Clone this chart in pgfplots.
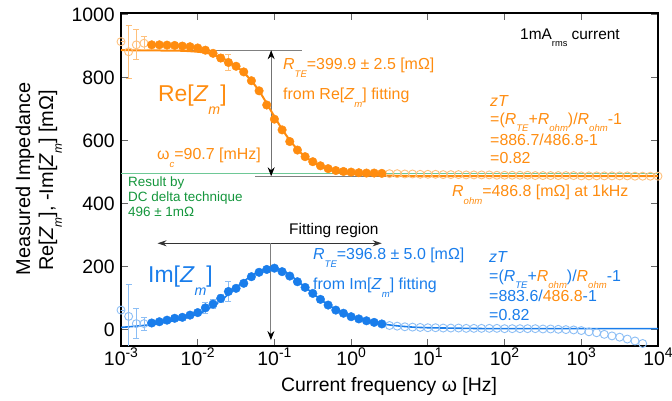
\documentclass[border=0pt]{standalone}
\usepackage{fontspec}
\setmainfont{Liberation Sans}
\usepackage{graphicx}
\usepackage{pgfplots}
\pgfplotsset{compat=1.18}
\usepackage{pgfplotstable}
\usetikzlibrary{arrows.meta}
\definecolor{ora}{RGB}{255,140,15}
\definecolor{blu}{RGB}{25,125,235}
\definecolor{grn}{RGB}{20,150,60}
\definecolor{gln}{RGB}{110,200,150}
\newcommand\fs[1]{\fontsize{#1}{#1}\selectfont}
\newcommand\sub[1]{\raisebox{-0.45em}{\scalebox{0.6}{\itshape #1}}}
\newcommand\subb[1]{\raisebox{-0.55em}{\scalebox{0.62}{\itshape #1}}}
\newcommand\subu[1]{\raisebox{-0.45em}{\scalebox{0.6}{#1}}}
\newcommand\xsup[1]{\raisebox{0.38em}{\fs{14}#1}}

\pgfplotstableread{
f re im
2.512e-3 904 21
3.162e-3 904 25
3.981e-3 903 30
5.012e-3 902 36
6.310e-3 900 39
7.943e-3 898 46
1e-2 894 54
1.259e-2 887 69
1.585e-2 877 81
1.995e-2 862 99
2.512e-2 848 121
3.162e-2 836 131
3.981e-2 818 147
5.012e-2 790 168
6.310e-2 758 182
7.943e-2 713 191
0.1 668 195
0.1259 634 184
0.1585 597 170
0.1995 570 152
0.2512 549 134
0.3162 533 115
0.3981 520 96
0.5012 511 78
0.6310 505 62
0.7943 502 52
1 500 41
1.259 498 34
1.585 497 28
1.995 497 23
2.512 496 18
}\filled

\pgfplotstableread{
f re
3.162 495
3.981 495
5.012 494
6.310 494
7.943 493
10 493
12.59 493
15.85 492
19.95 492
25.12 492
31.62 491
39.81 491
50.12 491
63.10 491
79.43 490
100 490
125.9 490
158.5 490
199.5 490
251.2 489
316.2 489
398.1 489
501.2 489
631.0 489
794.3 489
1000 488
1259 488
1585 488
1995 488
2512 488
3162 488
3981 488
5012 487
6310 487
7943 487
10000 487
}\rehigh

\pgfplotstableread{
f im
3.162 13
3.981 11
5.012 9
6.310 8
7.943 7
10 6
12.59 6
15.85 5
19.95 5
25.12 5
31.62 4
39.81 4
50.12 4
63.10 4
79.43 4
100 3
125.9 3
158.5 3
199.5 3
251.2 3
316.2 2
398.1 2
501.2 1
631.0 0
794.3 -1
1000 -3
1259 -7
1585 -10
1995 -15
2512 -20
3162 -24
3981 -30
5012 -36
6310 -44
}\imhigh

\begin{document}
\begin{tikzpicture}
\begin{axis}[
  at={(121bp,55bp)}, anchor=south west,
  width=537bp, height=333bp, scale only axis,
  xmode=log, xmin=1e-3, xmax=1e4, ymin=-52, ymax=1005,
  xtick={1e-3,1e-2,1e-1,1,10,100,1000,10000},
  xticklabels={10\xsup{-3},10\xsup{-2},10\xsup{-1},10\xsup{0},10\xsup{1},10\xsup{2},10\xsup{3},10\xsup{4}},
  xminorticks=false,
  ytick={0,200,400,600,800,1000},
  tick align=inside,
  major tick length=7bp,
  tick style={black!60, line width=0.8bp},
  axis line style={line width=2.6bp},
  tick label style={font=\fs{19.5}},
  /pgf/number format/assume math mode=true,
  /pgf/number format/1000 sep={},
  yticklabel style={inner sep=0pt, xshift=-6bp},
  xticklabel style={inner sep=0pt, yshift=-2bp},
]
% reference lines
\draw[gln, line width=1.2bp] (axis cs:1e-3,496) -- (axis cs:1e4,496);
\draw[black!50, line width=1bp] (axis cs:1e-3,886.7) -- (axis cs:0.229,886.7);
\draw[black!50, line width=1bp] (axis cs:0.056,486.8) -- (axis cs:1e4,486.8);
\draw[black!55, line width=1bp,
  {Stealth[length=9bp,width=7bp,inset=3bp,color=black]}-{Stealth[length=9bp,width=7bp,inset=3bp,color=black]}]
  (axis cs:0.0907,886.7) -- (axis cs:0.0907,486.8);
\draw[black!80, line width=1bp,
  {Stealth[length=9bp,width=6bp,inset=3bp]}-{Stealth[length=9bp,width=6bp,inset=3bp]}]
  (axis cs:3.0e-3,274) -- (axis cs:2.5,274);
\draw[black!50, line width=1bp, -{Stealth[length=9bp,width=7bp,inset=3bp,color=black]}]
  (axis cs:0.09,274) -- (axis cs:0.09,-33);

% fit lines
\addplot[ora, line width=2bp, smooth, tension=0.4] coordinates {
(1e-3,887) (3.162e-3,886) (6.310e-3,885) (1e-2,882) (1.259e-2,879) (1.585e-2,873)
(1.995e-2,864) (2.512e-2,852) (3.162e-2,836) (3.981e-2,816) (5.012e-2,790)
(6.310e-2,758) (7.943e-2,718) (0.1,676) (0.1259,636) (0.1585,601) (0.1995,572)
(0.2512,549) (0.3162,532) (0.3981,519) (0.5012,509) (0.6310,502) (0.7943,497)
(1,494) (1.585,491) (2.512,489) (5.012,488) (10,487) (10000,487)};
\addplot[blu, line width=1.6bp, smooth, tension=0.4] coordinates {
(1e-3,7) (1.585e-3,11) (2.512e-3,16) (3.981e-3,24) (6.310e-3,34) (1e-2,49)
(1.259e-2,60) (1.585e-2,74) (1.995e-2,92) (2.512e-2,112) (3.162e-2,133)
(3.981e-2,153) (5.012e-2,171) (6.310e-2,184) (7.943e-2,192) (0.1,194)
(0.1259,188) (0.1585,174) (0.1995,155) (0.2512,135) (0.3162,115) (0.3981,96)
(0.5012,79) (0.6310,64) (0.7943,52) (1,42) (1.259,34) (1.585,28) (1.995,22)
(2.512,18) (3.981,12) (6.310,8) (10,6) (31.62,4) (100,3) (10000,3)};

% open circles (outside fitting region)
\addplot[only marks, mark=o, mark size=4bp, ora!55, line width=0.9bp] table[x=f,y=re] {\rehigh};
\addplot[only marks, mark=o, mark size=4bp, blu!50, line width=0.9bp] table[x=f,y=im] {\imhigh};
\addplot[only marks, mark=o, mark size=4bp, ora!55, line width=0.9bp,
  error bars/.cd, y dir=both, y explicit,
  error mark options={rotate=90, mark size=3bp, line width=0.9bp}] coordinates {
(1e-3,914) +- (0,0) (1.259e-3,882) +- (0,85) (1.585e-3,904) +- (0,48) (1.995e-3,909) +- (0,21)};
\addplot[only marks, mark=o, mark size=4bp, blu!50, line width=0.9bp,
  error bars/.cd, y dir=both, y explicit,
  error mark options={rotate=90, mark size=3bp, line width=0.9bp}] coordinates {
(1e-3,62) +- (0,0) (1.259e-3,42) +- (0,100) (1.585e-3,19) +- (0,47) (1.995e-3,19) +- (0,21)};

% error bars on filled points
\addplot[only marks, mark=none, ora!55, line width=0.9bp,
  error bars/.cd, y dir=both, y explicit,
  error mark options={rotate=90, mark size=3bp, line width=0.9bp}] coordinates {
(1.995e-2,862) +- (0,12) (2.512e-2,848) +- (0,24)};
\addplot[only marks, mark=none, blu!50, line width=0.9bp,
  error bars/.cd, y dir=both, y explicit,
  error mark options={rotate=90, mark size=3bp, line width=0.9bp}] coordinates {
(1.259e-2,69) +- (0,18) (1.585e-2,81) +- (0,15) (1.995e-2,99) +- (0,12) (2.512e-2,121) +- (0,33)};

% filled points (fitting region)
\addplot[only marks, mark=*, mark size=4.3bp, ora, mark options={draw=ora, fill=ora}] table[x=f,y=re] {\filled};
\addplot[only marks, mark=*, mark size=4.3bp, blu, mark options={draw=blu, fill=blu}] table[x=f,y=im] {\filled};
\end{axis}

% axis labels
\node[anchor=base, inner sep=0pt] at (389bp,10bp) {\fs{19.5}Current frequency ω [Hz]};
\node[rotate=90, anchor=base, inner sep=0pt] at (30bp,222bp) {\fs{20}Measured Impedance};
\node[rotate=90, anchor=base, inner sep=0pt] at (53bp,220.5bp) {\fs{20}Re[\textit{Z}\sub{m}], -Im[\textit{Z}\sub{m}] [mΩ]};

% Re annotations
\node[ora, anchor=base west, inner sep=0pt] at (283bp,331bp) {\fs{16}\textit{R}\sub{TE}=399.9 ± 2.5 [mΩ]};
\node[ora, anchor=base west, inner sep=0pt] at (283bp,301bp) {\fs{16}from Re[\textit{Z}\sub{m}] fitting};
\node[ora, anchor=base west, inner sep=0pt] at (158bp,299bp) {\fs{23}Re[\textit{Z}\subb{m}]};
\node[ora, anchor=base west, inner sep=0pt] at (157bp,241bp) {\fs{16}ω\sub{c}=90.7 [mHz]};
\node[grn, anchor=base west, inner sep=0pt] at (128bp,214bp) {\fs{13.5}Result by};
\node[grn, anchor=base west, inner sep=0pt] at (128bp,199bp) {\fs{13.5}DC delta technique};
\node[grn, anchor=base west, inner sep=0pt] at (128bp,184bp) {\fs{13.5}496 ± 1mΩ};
\node[black, anchor=base west, inner sep=0pt] at (520bp,361bp) {\fs{15.5}1mA\subu{rms} current};
\node[ora, anchor=base west, inner sep=0pt] at (490bp,294bp) {\fs{16}\textit{zT}};
\node[ora, anchor=base west, inner sep=0pt] at (490bp,276.5bp) {\fs{16}=(\textit{R}\sub{TE}+\textit{R}\sub{ohm})/\textit{R}\sub{ohm}-1};
\node[ora, anchor=base west, inner sep=0pt] at (490bp,255.5bp) {\fs{16}=886.7/486.8-1};
\node[ora, anchor=base west, inner sep=0pt] at (490bp,237.5bp) {\fs{16}=0.82};
\node[ora, anchor=base west, inner sep=0pt] at (452bp,204bp) {\fs{16}\textit{R}\sub{ohm}=486.8 [mΩ] at 1kHz};

% Im annotations
\node[black, anchor=base west, inner sep=0pt] at (289bp,166bp) {\fs{15.5}Fitting region};
\node[blu, anchor=base west, inner sep=0pt] at (313bp,141bp) {\fs{16}\textit{R}\sub{TE}=396.8 ± 5.0 [mΩ]};
\node[blu, anchor=base west, inner sep=0pt] at (313bp,111bp) {\fs{16}from Im[\textit{Z}\sub{m}] fitting};
\node[blu, anchor=base west, inner sep=0pt] at (148bp,118bp) {\fs{23}Im[\textit{Z}\subb{m}]};
\node[blu, anchor=base west, inner sep=0pt] at (489bp,138bp) {\fs{16}\textit{zT}};
\node[blu, anchor=base west, inner sep=0pt] at (489bp,119.5bp) {\fs{16}=(\textit{R}\sub{TE}+{\color{ora}\textit{R}\sub{ohm}})/{\color{ora}\textit{R}\sub{ohm}}-1};
\node[blu, anchor=base west, inner sep=0pt] at (489bp,99bp) {\fs{16}=883.6/{\color{ora}486.8}-1};
\node[blu, anchor=base west, inner sep=0pt] at (489bp,80bp) {\fs{16}=0.82};

\pgfresetboundingbox
\path[use as bounding box] (0,0) rectangle (672bp,401bp);
\end{tikzpicture}
\end{document}
